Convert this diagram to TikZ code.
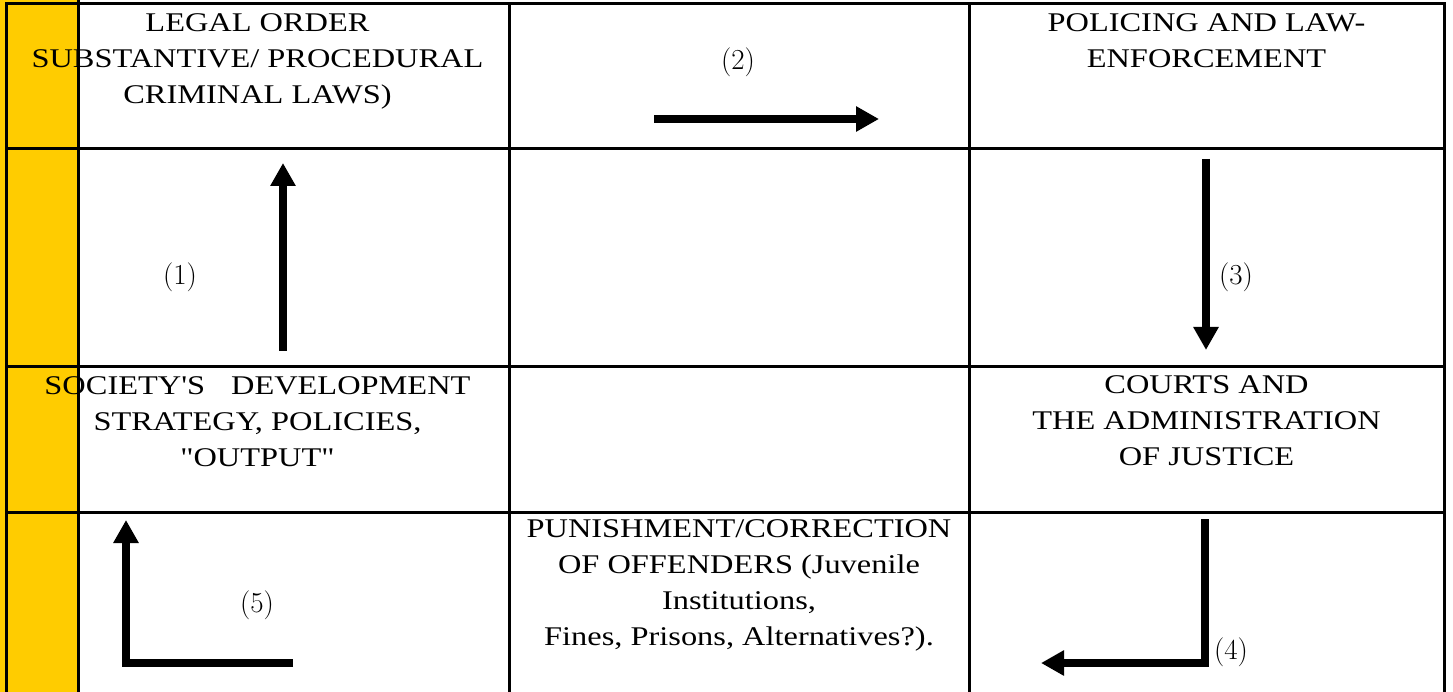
\documentclass[tikz,border=0pt]{standalone}
\usepackage{fontspec}
\setmainfont{Liberation Serif}[Ligatures=TeXOff, FakeStretch=1.2]
\usetikzlibrary{arrows.meta}
\definecolor{gold}{HTML}{FFCC00}
\begin{document}
\begin{tikzpicture}[x=1pt,y=-1pt,
  grid/.style={line width=3pt, line cap=rect},
  celltext/.style={anchor=north, inner sep=0pt, align=center, font=\fontsize{27}{36}\selectfont},
  numlabel/.style={inner sep=0pt, font=\fontfamily{lmr}\fontsize{29}{32}\selectfont},
  bigarrow/.style={line width=7.5pt, -{Triangle[length=23pt,width=24pt]}, line join=miter}
]
\useasboundingbox (0,0) rectangle (1453,692);
% yellow band
\fill[gold] (0,0) rectangle (78,692);
% grid
\draw[grid] (6,4) -- (1444,4);
\draw[grid] (6,149) -- (1444,149);
\draw[grid] (6,366) -- (1444,366);
\draw[grid] (6,512) -- (1444,512);
\draw[grid] (6,4) -- (6,700);
\draw[grid] (78,0) -- (78,700);
\draw[grid] (509,4) -- (509,700);
\draw[grid] (969,4) -- (969,700);
\draw[grid] (1444,4) -- (1444,700);
% cell texts
\node[celltext] (legal) at (257.5,13.7) {LEGAL ORDER\\SUBSTANTIVE/ PROCEDURAL\\CRIMINAL LAWS)};
\node[celltext] (police) at (1206.5,13.7) {POLICING AND LAW-\\ENFORCEMENT};
\node[celltext] (society) at (257.5,376.7) {SOCIETY'S\hspace{26pt}DEVELOPMENT\\STRATEGY, POLICIES,\\"OUTPUT"};
\node[celltext] (courts) at (1206.5,375.7) {COURTS AND\\THE ADMINISTRATION\\OF JUSTICE};
\node[celltext] (punish) at (739,519.5) {PUNISHMENT/CORRECTION\\OF OFFENDERS (Juvenile\\Institutions,\\Fines, Prisons, Alternatives?).};
% arrow coordinates
\coordinate (a1s) at (283,351); \coordinate (a1e) at (283,163);
\coordinate (a2s) at (654,119); \coordinate (a2e) at (879,119);
\coordinate (a3s) at (1206,159); \coordinate (a3e) at (1206,350);
\coordinate (a4s) at (1205,519); \coordinate (a4c) at (1205,663); \coordinate (a4e) at (1041,663);
\coordinate (a5s) at (293,663); \coordinate (a5c) at (126,663); \coordinate (a5e) at (126,520);
\draw[bigarrow] (a1s) -- (a1e);
\draw[bigarrow] (a2s) -- (a2e);
\draw[bigarrow] (a3s) -- (a3e);
\draw[bigarrow] (a4s) -- (a4c) -- (a4e);
\draw[bigarrow] (a5s) -- (a5c) -- (a5e);
% labels
\node[numlabel] (l1) at (180,277) {(1)};
\node[numlabel] (l2) at (738,62) {(2)};
\node[numlabel] (l3) at (1236,277) {(3)};
\node[numlabel] (l4) at (1231,652) {(4)};
\node[numlabel] (l5) at (257,605) {(5)};
\end{tikzpicture}
\end{document}
